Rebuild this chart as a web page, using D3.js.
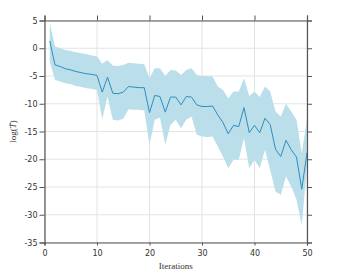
<!DOCTYPE html>
<html>
<head>
<meta charset="utf-8">
<script src="https://cdn.jsdelivr.net/npm/d3@7"></script>
<style>
  body { margin: 0; background: #fff; }
  svg { display: block; }
</style>
</head>
<body>
<svg id="chart"></svg>
<script>
// iterations 1..50
const iterations = d3.range(1, 51)

// mean of log(T~) per iteration
const meanValues = [
  1.3, -3.0, -3.3, -3.7, -3.9, -4.2, -4.4, -4.6, -4.7, -4.9,
  -7.9, -5.2, -8.1, -8.2, -7.9, -6.9, -7.0, -7.1, -7.1, -11.6,
  -8.5, -8.7, -11.5, -8.8, -8.8, -10.2, -8.7, -8.8, -10.2, -10.5,
  -10.5, -10.4, -12.0, -13.4, -15.4, -13.9, -14.1, -10.7, -15.2, -13.9,
  -15.2, -12.6, -13.8, -18.2, -19.5, -16.6, -18.3, -19.6, -25.4, -18.8
]

// upper edge of the shaded band
const upperValues = [
  4.6, 0.3, 0.0, -0.3, -0.5, -0.7, -0.9, -1.1, -1.3, -1.5,
  -2.8, -2.1, -3.1, -3.2, -3.0, -2.6, -2.7, -2.8, -2.9, -5.4,
  -3.6, -3.6, -5.0, -3.9, -4.0, -4.8, -3.9, -3.6, -4.8, -5.0,
  -5.0, -5.1, -6.9, -7.5, -9.0, -7.8, -7.8, -5.4, -8.6, -7.8,
  -8.8, -6.9, -7.8, -11.4, -12.3, -10.0, -11.4, -12.9, -18.9, -12.8
]

// lower edge of the shaded band
const lowerValues = [
  -2.4, -5.7, -6.0, -6.3, -6.5, -6.8, -7.0, -7.2, -7.3, -7.5,
  -12.8, -8.7, -12.9, -13.0, -12.7, -11.0, -11.1, -11.1, -11.2, -17.4,
  -12.9, -12.5, -17.4, -13.8, -12.9, -14.4, -12.9, -12.3, -15.6, -15.9,
  -16.0, -15.9, -17.7, -19.5, -21.6, -20.1, -20.1, -16.2, -21.6, -20.1,
  -21.6, -18.3, -22.0, -25.8, -26.4, -23.1, -24.9, -27.3, -31.8, -21.5
]

const xTicks = [0, 10, 20, 30, 40, 50]
const yTicks = [5, 0, -5, -10, -15, -20, -25, -30, -35]

const width = 340
const height = 273
const margin = { top: 20.5, right: 33, bottom: 30.5, left: 44.5 }

const svg = d3.select('#chart')
    .attr('width', width)
    .attr('height', height)

const x = d3.scaleLinear().domain([0, 50]).range([margin.left, width - margin.right])
const y = d3.scaleLinear().domain([-35, 5]).range([height - margin.bottom, margin.top])

const data = iterations.map((it, i) => ({ it: it, m: meanValues[i], lo: lowerValues[i], hi: upperValues[i] }))

// grid
const grid = svg.append('g')

grid.selectAll('.gx')
    .data(xTicks)
    .enter().append('line')
    .attr('x1', d => x(d)).attr('x2', d => x(d))
    .attr('y1', y(5)).attr('y2', y(-35))
    .attr('stroke', '#e3e3e3')
    .attr('stroke-width', 1)

grid.selectAll('.gy')
    .data(yTicks)
    .enter().append('line')
    .attr('x1', x(0)).attr('x2', x(50))
    .attr('y1', d => y(d)).attr('y2', d => y(d))
    .attr('stroke', '#e3e3e3')
    .attr('stroke-width', 1)

// band
const area = d3.area()
    .x(d => x(d.it))
    .y0(d => y(d.lo))
    .y1(d => y(d.hi))

svg.append('path')
    .datum(data)
    .attr('d', area)
    .attr('fill', '#badfeb')

// mean line
const line = d3.line()
    .x(d => x(d.it))
    .y(d => y(d.m))

svg.append('path')
    .datum(data)
    .attr('d', line)
    .attr('fill', 'none')
    .attr('stroke', '#2f8dbd')
    .attr('stroke-width', 1)

// axes
const tickFont = 'DejaVu Sans, sans-serif'

const axLeft = svg.append('g')
    .attr('transform', `translate(${x(0)},0)`)
    .call(d3.axisLeft(y).tickValues(yTicks).tickSize(5).tickPadding(2).tickFormat(d => String(d).replace('\u2212', '-')))

const axBottom = svg.append('g')
    .attr('transform', `translate(0,${y(-35)})`)
    .call(d3.axisBottom(x).tickValues(xTicks).tickSize(3).tickPadding(5))

const axTop = svg.append('g')
    .attr('transform', `translate(0,${y(5)})`)
    .call(d3.axisTop(x).tickValues(xTicks).tickSize(5).tickFormat(''))

const axRight = svg.append('g')
    .attr('transform', `translate(${x(50)},0)`)
    .call(d3.axisRight(y).tickValues(yTicks).tickSize(5).tickFormat(''))

for (const g of [axLeft, axBottom, axTop, axRight]) {
    g.select('.domain').attr('stroke', '#555').attr('stroke-width', 1.2)
    g.selectAll('.tick line').attr('stroke', '#555')
    g.selectAll('text')
        .attr('font-family', tickFont)
        .attr('font-size', '8px')
        .attr('fill', '#333')
}

// axis titles
svg.append('text')
    .attr('x', (x(0) + x(50)) / 2)
    .attr('y', height - 4)
    .attr('text-anchor', 'middle')
    .attr('font-family', 'Liberation Serif, serif')
    .attr('font-size', '9px')
    .attr('fill', '#333')
    .text('Iterations')

const yl = svg.append('text')
    .attr('transform', `translate(16,${(y(5) + y(-35)) / 2}) rotate(-90)`)
    .attr('text-anchor', 'middle')
    .attr('font-family', 'Liberation Serif, serif')
    .attr('font-size', '9px')
    .attr('fill', '#333')

yl.append('tspan').text('log(')
yl.append('tspan').attr('font-style', 'italic').text('T\u0303')
yl.append('tspan').text(')')
</script>
</body>
</html>
